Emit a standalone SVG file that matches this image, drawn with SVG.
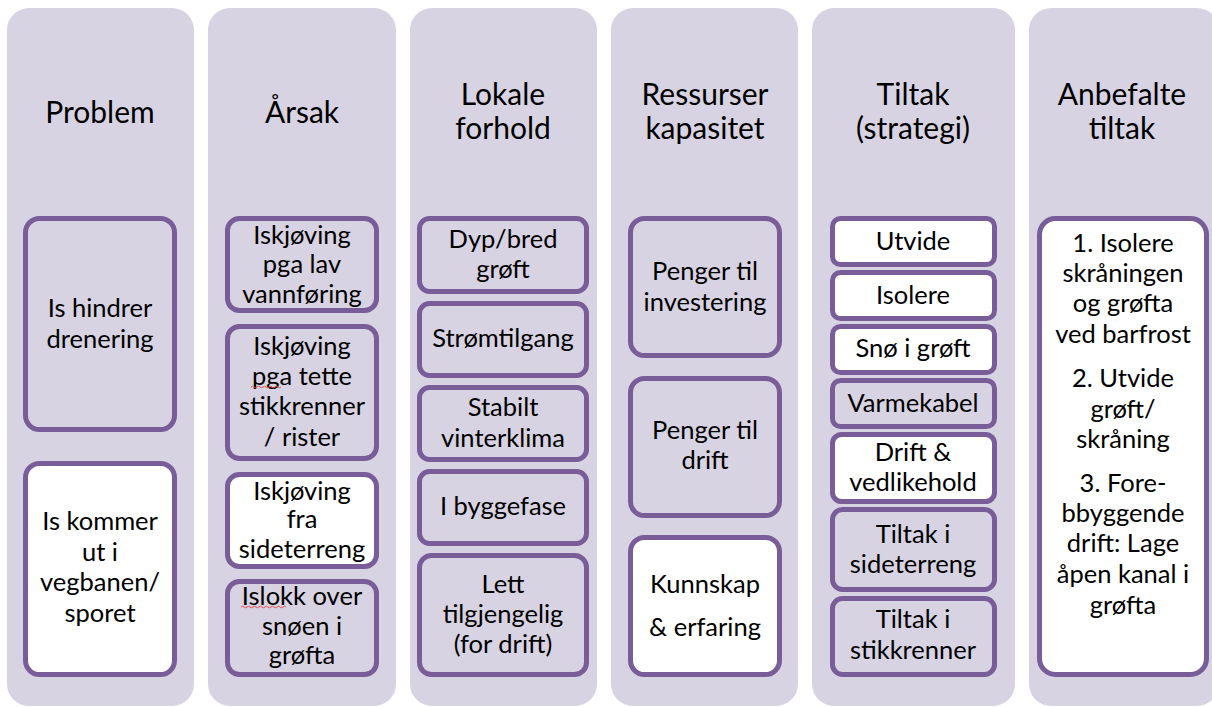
<svg xmlns="http://www.w3.org/2000/svg" width="1212" height="707" viewBox="0 0 1212 707">
<style>
.col{fill:#d8d3e2;}
.box{stroke:#785d99;stroke-width:5;fill:#d8d3e2;}
.wbox{stroke:#785d99;stroke-width:5;fill:#ffffff;}
.h{font-family:Lato,"Liberation Sans",sans-serif;font-size:30px;fill:#000;text-anchor:middle;}
.t{font-family:Lato,"Liberation Sans",sans-serif;font-size:25.5px;fill:#000;text-anchor:middle;}
.sq{fill:none;stroke:#e05050;stroke-width:1;}
</style>
<rect width="1212" height="707" fill="#ffffff"/>
<g id="columns">
<rect class="col" x="7" y="8" width="187" height="698" rx="22"/>
<rect class="col" x="208" y="8" width="188" height="698" rx="22"/>
<rect class="col" x="410" y="8" width="187" height="698" rx="22"/>
<rect class="col" x="611" y="8" width="187" height="698" rx="22"/>
<rect class="col" x="812" y="8" width="203" height="698" rx="22"/>
<rect class="col" x="1029" y="8" width="190" height="698" rx="22"/>
</g>
<g id="headers">
<text class="h" x="100" y="123">Problem</text>
<text class="h" x="302" y="123">Årsak</text>
<text class="h" x="503" y="105">Lokale</text>
<text class="h" x="503" y="139">forhold</text>
<text class="h" x="705" y="105">Ressurser</text>
<text class="h" x="705" y="139">kapasitet</text>
<text class="h" x="913" y="105">Tiltak</text>
<text class="h" x="913" y="139">(strategi)</text>
<text class="h" x="1122" y="105">Anbefalte</text>
<text class="h" x="1122" y="139">tiltak</text>
</g>
<g id="problem-1"><rect class="box" x="25.5" y="218.5" width="149" height="211" rx="14"/>
<text class="t" x="100" y="317">Is hindrer</text><text class="t" x="100" y="348">drenering</text></g>
<g id="problem-2"><rect class="wbox" x="25.5" y="463.5" width="149" height="211" rx="14"/>
<text class="t" x="100" y="530">Is kommer</text><text class="t" x="100" y="561">ut i</text><text class="t" x="100" y="591">vegbanen/</text><text class="t" x="100" y="622">sporet</text></g>

<g id="arsak-1"><rect class="box" x="227.5" y="218.5" width="149" height="92" rx="12"/>
<text class="t" x="302" y="244">Iskjøving</text><text class="t" x="302" y="273">pga lav</text><text class="t" x="302" y="303">vannføring</text></g>
<g id="arsak-2"><rect class="box" x="227.5" y="326.5" width="149" height="132" rx="12"/>
<text class="t" x="302" y="355">Iskjøving</text><text class="t" x="302" y="385">pga tette</text><text class="t" x="302" y="415">stikkrenner</text><text class="t" x="302" y="446">/ rister</text>
<path class="sq" d="M251 387 q1.5 -1.5 3 0 t3 0 t3 0 t3 0 t3 0 t3 0 t3 0 t3 0 t3 0 t3 0"/></g>
<g id="arsak-3"><rect class="wbox" x="227.5" y="474.5" width="149" height="92" rx="12"/>
<text class="t" x="302" y="500">Iskjøving</text><text class="t" x="302" y="528">fra</text><text class="t" x="302" y="558">sideterreng</text></g>
<g id="arsak-4"><rect class="box" x="227.5" y="581.5" width="149" height="93" rx="12"/>
<text class="t" x="302" y="605">Islokk over</text><text class="t" x="302" y="635">snøen i</text><text class="t" x="302" y="664">grøfta</text>
<path class="sq" d="M241 607 q1.5 -1.5 3 0 t3 0 t3 0 t3 0 t3 0 t3 0 t3 0 t3 0 t3 0 t3 0 t3 0 t3 0 t3 0 t3 0 t3 0"/></g>

<g id="lokale-1"><rect class="box" x="419.5" y="218.5" width="167" height="73" rx="10"/>
<text class="t" x="503" y="248">Dyp/bred</text><text class="t" x="503" y="278">grøft</text></g>
<g id="lokale-2"><rect class="box" x="419.5" y="303.5" width="167" height="72" rx="10"/>
<text class="t" x="503" y="347">Strømtilgang</text></g>
<g id="lokale-3"><rect class="box" x="419.5" y="387.5" width="167" height="72" rx="10"/>
<text class="t" x="503" y="416">Stabilt</text><text class="t" x="503" y="447">vinterklima</text></g>
<g id="lokale-4"><rect class="box" x="419.5" y="471.5" width="167" height="72" rx="10"/>
<text class="t" x="503" y="515">I byggefase</text></g>
<g id="lokale-5"><rect class="box" x="419.5" y="555.5" width="167" height="119" rx="12"/>
<text class="t" x="503" y="593">Lett</text><text class="t" x="503" y="623">tilgjengelig</text><text class="t" x="503" y="653">(for drift)</text></g>

<g id="ressurser-1"><rect class="box" x="630.5" y="218.5" width="149" height="137" rx="14"/>
<text class="t" x="705" y="280">Penger til</text><text class="t" x="705" y="311">investering</text></g>
<g id="ressurser-2"><rect class="box" x="630.5" y="378.5" width="149" height="137" rx="14"/>
<text class="t" x="705" y="439">Penger til</text><text class="t" x="705" y="469">drift</text></g>
<g id="ressurser-3"><rect class="wbox" x="630.5" y="537.5" width="149" height="137" rx="14"/>
<text class="t" x="705" y="593">Kunnskap</text><text class="t" x="705" y="636">&amp; erfaring</text></g>

<g id="tiltak-1"><rect class="wbox" x="832.5" y="218.5" width="162" height="46" rx="8"/>
<text class="t" x="913" y="250">Utvide</text></g>
<g id="tiltak-2"><rect class="wbox" x="832.5" y="272.5" width="162" height="46" rx="8"/>
<text class="t" x="913" y="304">Isolere</text></g>
<g id="tiltak-3"><rect class="wbox" x="832.5" y="326.5" width="162" height="46" rx="8"/>
<text class="t" x="913" y="357">Snø i grøft</text></g>
<g id="tiltak-4"><rect class="box" x="832.5" y="380.5" width="162" height="46" rx="8"/>
<text class="t" x="913" y="412">Varmekabel</text></g>
<g id="tiltak-5"><rect class="wbox" x="832.5" y="434.5" width="162" height="67" rx="9"/>
<text class="t" x="913" y="461">Drift &amp;</text><text class="t" x="913" y="491">vedlikehold</text></g>
<g id="tiltak-6"><rect class="box" x="832.5" y="509.5" width="162" height="80" rx="10"/>
<text class="t" x="913" y="543">Tiltak i</text><text class="t" x="913" y="573">sideterreng</text></g>
<g id="tiltak-7"><rect class="box" x="832.5" y="598.5" width="162" height="76" rx="10"/>
<text class="t" x="913" y="628">Tiltak i</text><text class="t" x="913" y="659">stikkrenner</text></g>

<g id="anbefalte"><rect class="wbox" x="1039.5" y="218.5" width="167" height="456" rx="16"/>
<text class="t" x="1123" y="252">1. Isolere</text>
<text class="t" x="1123" y="282">skråningen</text>
<text class="t" x="1123" y="312">og grøfta</text>
<text class="t" x="1123" y="343">ved barfrost</text>
<text class="t" x="1123" y="387">2. Utvide</text>
<text class="t" x="1123" y="418">grøft/</text>
<text class="t" x="1123" y="448">skråning</text>
<text class="t" x="1123" y="492">3. Fore-</text>
<text class="t" x="1123" y="522">bbyggende</text>
<text class="t" x="1123" y="552">drift: Lage</text>
<text class="t" x="1123" y="583">åpen kanal i</text>
<text class="t" x="1123" y="614">grøfta</text></g>
<g id="connectors"></g>
</svg>
